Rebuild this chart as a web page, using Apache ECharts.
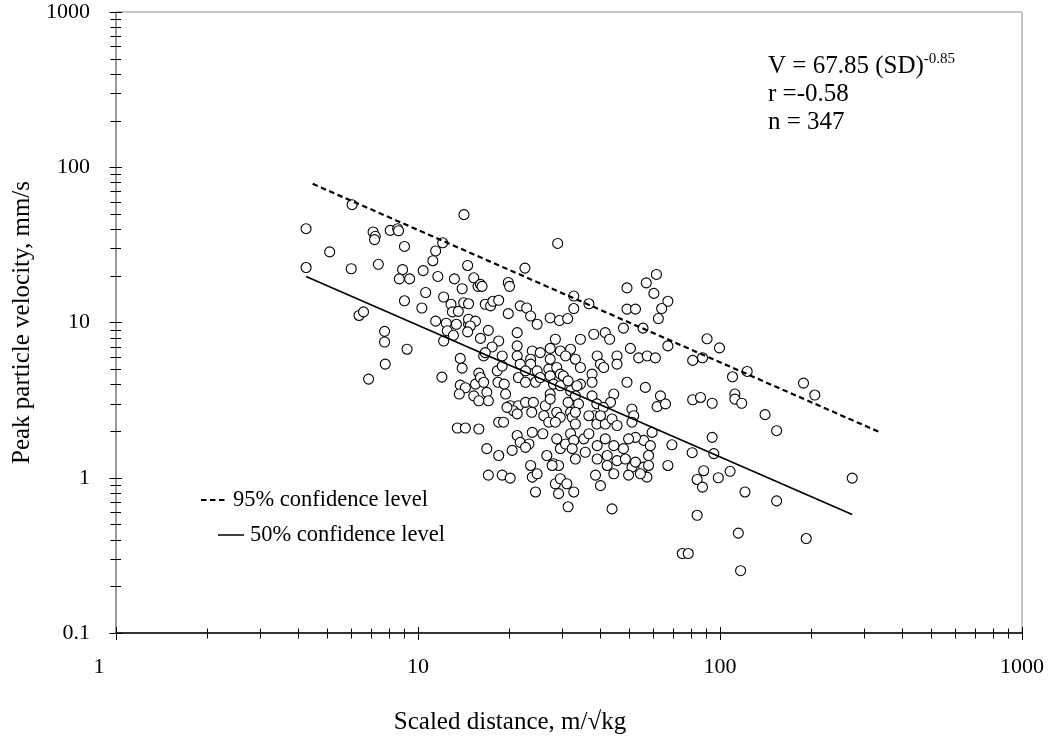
<!DOCTYPE html>
<html>
<head>
<meta charset="utf-8">
<script src="https://cdn.jsdelivr.net/npm/echarts@6/dist/echarts.min.js"></script>
<style>html,body{margin:0;padding:0;background:#fff}#chart{width:1054px;height:740px}</style>
</head>
<body>
<div id="chart"></div>
<script>
// Scaled distance (m/√kg) of each observation
const scaledDistance = [
  6.05, 4.26, 14.2, 7.10, 7.22, 7.18, 8.09, 8.56, 8.62, 5.10,
  9.02, 12.07, 11.44, 11.2, 14.6, 4.26, 6.01, 7.39, 8.89, 8.67,
  9.38, 10.4, 11.63, 13.2, 14.0, 15.3, 15.8, 10.6, 9.02, 12.16,
  12.86, 14.17, 14.7, 10.3, 13.0, 13.6, 6.38, 6.6, 11.44, 12.4,
  13.4, 14.7, 14.7, 15.5, 12.5, 13.1, 7.75, 7.75, 12.16, 9.2,
  7.79, 13.8, 14.0, 6.86, 12.0, 15.9, 13.8, 14.35, 15.5, 13.7,
  13.5, 14.35, 15.9, 29.0, 16.1, 16.3, 22.6, 19.9, 20.1, 16.7,
  17.4, 17.7, 18.5, 21.8, 22.9, 23.6, 24.8, 19.9, 14.9, 27.4,
  29.4, 31.3, 32.8, 32.8, 36.8, 49.2, 57.0, 61.6, 60.4, 49.2,
  52.5, 55.6, 47.9, 17.1, 14.6, 21.3, 38.2, 41.7, 43.1, 34.5,
  28.5, 16.1, 18.5, 17.6, 16.5, 16.7, 19.0, 21.3, 21.3, 21.8,
  23.9, 25.4, 27.4, 23.6, 23.6, 29.6, 32.0, 30.8, 33.2, 34.5,
  27.4, 27.1, 28.8, 29.6, 39.2, 40.2, 41.2, 45.6, 45.6, 50.5,
  53.8, 57.4, 61.1, 37.7, 37.7, 34.5, 44.5, 43.4, 49.2, 56.6,
  16.1, 16.5, 18.3, 19.0, 18.4, 19.3, 19.5, 16.9, 17.1, 21.5,
  22.7, 24.5, 22.7, 24.8, 25.4, 27.4, 28.1, 29.6, 30.3, 31.4,
  32.0, 33.6, 33.2, 34.0, 32.0, 27.4, 26.4, 28.8, 20.2, 21.5,
  22.7, 24.1, 23.8, 37.7, 39.1, 41.1, 38.3, 51.1, 51.8, 51.1,
  26.1, 27.1, 29.6, 32.4, 33.2, 36.8, 39.1, 41.7, 43.9, 45.6,
  15.3, 15.9, 18.5, 19.2, 20.7, 21.3, 63.5, 19.7, 27.4, 31.4,
  28.5, 33.2, 40.2, 59.6, 55.9, 52.5, 21.3, 21.8, 23.9, 25.9,
  23.3, 22.7, 16.9, 18.5, 20.5, 26.7, 28.1, 29.2, 27.8, 23.6,
  28.8, 29.6, 30.8, 32.0, 32.8, 32.4, 35.4, 36.8, 35.8, 39.2,
  39.2, 41.7, 42.3, 44.5, 33.2, 45.6, 47.9, 48.6, 51.1, 49.8,
  52.5, 55.9, 58.0, 58.0, 57.3, 38.7, 40.2, 44.5, 49.8, 54.5,
  17.1, 19.0, 20.2, 23.9, 24.8, 24.5, 28.5, 29.6, 31.1, 29.2,
  32.8, 31.4, 43.9, 42.3, 67.2, 64.1, 62.5, 67.2, 90.6, 99.6,
  81.2, 87.5, 123, 110, 189, 206, 61.9, 66.0, 81.2, 86.2,
  94.2, 112, 112, 118, 141, 154, 58.8, 69.3, 67.2, 80.9,
  94.2, 95.4, 88.3, 84.0, 87.5, 98.7, 108, 121, 154, 84.0,
  115, 193, 75.0, 78.5, 117, 274
];
// Peak particle velocity (mm/s) of each observation
const peakVelocity = [
  57.4, 40.2, 49.5, 38.3, 35.9, 34.2, 39.2, 40.2, 39.0, 28.5,
  30.9, 32.6, 28.9, 25.0, 23.3, 22.6, 22.2, 23.7, 21.9, 19.1,
  19.1, 21.6, 19.8, 19.1, 16.5, 19.4, 17.1, 15.6, 13.8, 14.6,
  13.1, 13.4, 13.2, 12.4, 11.7, 11.8, 11.1, 11.7, 10.2, 9.9,
  9.74, 9.74, 10.5, 10.2, 8.84, 8.27, 8.77, 7.49, 7.6, 6.73,
  5.39, 5.87, 5.08, 4.32, 4.45, 4.72, 3.95, 3.8, 4.01, 3.46,
  2.09, 2.09, 2.06, 32.3, 17.6, 17.1, 22.4, 18.1, 17.1, 13.1,
  12.8, 13.7, 13.9, 12.8, 12.4, 11.0, 9.74, 11.4, 9.5, 10.7,
  10.3, 10.6, 14.8, 12.3, 13.2, 16.7, 18.0, 20.4, 15.4, 12.2,
  12.2, 9.2, 9.2, 8.9, 8.7, 8.6, 8.4, 8.6, 7.8, 7.8,
  7.8, 7.9, 7.6, 6.96, 6.09, 6.4, 6.09, 7.07, 6.09, 5.39,
  6.56, 6.4, 6.81, 5.8, 5.39, 6.56, 6.73, 6.09, 5.8, 5.13,
  5.8, 5.01, 5.13, 4.65, 6.09, 5.39, 5.13, 6.09, 5.39, 6.81,
  5.92, 6.09, 5.92, 4.65, 4.12, 4.01, 3.46, 3.06, 4.12, 3.82,
  4.42, 4.12, 4.88, 5.24, 4.12, 4.01, 3.46, 3.55, 3.13, 4.42,
  4.12, 4.12, 4.88, 4.88, 4.42, 4.53, 4.01, 3.91, 4.53, 4.21,
  3.63, 3.91, 3.37, 2.99, 2.64, 3.46, 2.91, 2.64, 2.91, 2.91,
  3.06, 3.06, 2.64, 3.37, 2.99, 2.84, 2.51, 2.77, 2.51, 2.28,
  2.51, 2.28, 2.45, 2.45, 2.22, 2.51, 2.22, 2.22, 2.39, 2.17,
  3.37, 3.13, 2.28, 2.28, 2.70, 2.58, 3.37, 2.84, 3.21, 3.06,
  2.28, 2.64, 2.51, 1.96, 1.74, 1.82, 1.87, 1.69, 1.96, 1.92,
  1.65, 1.57, 1.54, 1.39, 1.50, 1.39, 1.23, 1.20, 1.20, 1.20,
  1.78, 1.54, 1.65, 1.92, 1.74, 1.54, 1.78, 1.92, 1.46, 1.61,
  1.32, 1.78, 1.39, 1.61, 1.32, 1.29, 1.54, 1.32, 1.17, 1.78,
  1.26, 1.17, 1.39, 1.20, 1.01, 1.04, 0.89, 1.06, 1.04, 1.06,
  1.04, 1.04, 0.995, 1.01, 1.06, 0.81, 0.915, 0.985, 0.915, 0.79,
  0.81, 0.65, 0.63, 1.20, 13.7, 12.3, 10.6, 7.07, 7.85, 6.86,
  5.70, 5.93, 4.84, 4.47, 4.07, 3.41, 2.87, 2.99, 3.18, 3.29,
  3.02, 3.46, 3.21, 3.02, 2.55, 2.01, 1.61, 1.63, 1.20, 1.45,
  1.82, 1.43, 1.11, 0.975, 0.87, 1.00, 1.10, 0.81, 0.71, 0.573,
  0.44, 0.406, 0.325, 0.325, 0.252, 0.995
];
// Fitted lines (end points)
const fit50SD = [4.26, 274];
const fit50V = [19.8, 0.58];
const fit95SD = [4.48, 341];
const fit95V = [78.2, 1.95];
// Axis ranges and tick layout
const xRange = [1, 1000];
const yRange = [0.1, 1000];
const xDecades = [1, 10, 100];
const yDecades = [0.1, 1, 10, 100];
const tickSteps = [1, 2, 3, 4, 5, 6, 7, 8, 9];
// Texts
const xTitle = 'Scaled distance, m/√kg';
const yTitle = 'Peak particle velocity, mm/s';
const legendTexts = ['95% confidence level', '50% confidence level'];
const equationMain = 'V = 67.85 (SD)';
const equationExp = '-0.85';
const statLines = ['r =-0.58', 'n = 347'];

const FONT = "'Liberation Serif', 'Times New Roman', serif";

const points = scaledDistance.map((d, i) => [d, peakVelocity[i]]);
const xTicks = [];
xDecades.forEach(d => tickSteps.forEach(s => xTicks.push([d * s, s === 1 ? 2 : 1])));
xTicks.push([xRange[1], 2]);
const yTicks = [];
yDecades.forEach(d => tickSteps.forEach(s => yTicks.push([s === 1 ? 2 : 1, +(d * s).toPrecision(6)])));
yTicks.push([2, yRange[1]]);

const plainNumber = v => String(+(+v).toPrecision(6));

const chart = echarts.init(document.getElementById('chart'), null, {renderer: 'canvas'});
chart.setOption({
  animation: false,
  backgroundColor: '#fff',
  grid: {left: 116, right: 32, top: 12, bottom: 105, show: true, borderColor: '#8c8c8c', borderWidth: 1, backgroundColor: 'transparent'},
  xAxis: {
    type: 'log', logBase: 10, min: xRange[0], max: xRange[1],
    axisLine: {show: true, lineStyle: {color: '#000', width: 1.5}},
    axisTick: {show: false},
    splitLine: {show: false},
    axisLabel: {
      margin: 23, color: '#000', fontFamily: FONT, fontSize: 22,
      formatter: v => +v === 1 ? '{f|1}' : '{n|' + plainNumber(v) + '}',
      rich: {
        f: {fontFamily: FONT, fontSize: 22, color: '#000', padding: [0, 34, 0, 0]},
        n: {fontFamily: FONT, fontSize: 22, color: '#000'}
      }
    },
    name: xTitle, nameLocation: 'middle', nameGap: 77,
    nameTextStyle: {fontFamily: FONT, fontSize: 25, color: '#000', padding: [0, 118, 0, 0]}
  },
  yAxis: {
    type: 'log', logBase: 10, min: yRange[0], max: yRange[1],
    axisLine: {show: true, lineStyle: {color: '#8c8c8c', width: 1.5}},
    axisTick: {show: false},
    splitLine: {show: false},
    axisLabel: {margin: 26, color: '#000', fontFamily: FONT, fontSize: 22, padding: [10, 0, 0, 0], formatter: plainNumber},
    name: yTitle, nameLocation: 'middle', nameGap: 78, nameRotate: 90,
    nameTextStyle: {fontFamily: FONT, fontSize: 25, color: '#000'}
  },
  graphic: [
    {type: 'text', left: 768, top: 52, z: 10,
     style: {
       text: '{m|' + equationMain + '}{s|' + equationExp + '}\n{m|' + statLines[0] + '}\n{m|' + statLines[1] + '}',
       rich: {
         m: {fontFamily: FONT, fontSize: 25, lineHeight: 28.3, fill: '#000'},
         s: {fontFamily: FONT, fontSize: 15, lineHeight: 8, verticalAlign: 'top', fill: '#000'}
       }
     }},
    {type: 'line', z: 10, shape: {x1: 201, y1: 500, x2: 228, y2: 500}, style: {stroke: '#000', lineWidth: 2, lineDash: [5.5, 3.5]}},
    {type: 'text', z: 10, x: 233, y: 500, style: {text: legendTexts[0], fontFamily: FONT, fontSize: 22.5, fill: '#000', verticalAlign: 'middle'}},
    {type: 'line', z: 10, shape: {x1: 218, y1: 535, x2: 244, y2: 535}, style: {stroke: '#000', lineWidth: 1.5}},
    {type: 'text', z: 10, x: 250, y: 535, style: {text: legendTexts[1], fontFamily: FONT, fontSize: 22.5, fill: '#000', verticalAlign: 'middle'}}
  ],
  series: [
    {
      type: 'scatter', data: points, symbol: 'circle', symbolSize: 10, z: 2,
      itemStyle: {color: '#fff', borderColor: '#000', borderWidth: 1.1, opacity: 1},
      emphasis: {disabled: true}
    },
    {
      type: 'line', data: fit95SD.map((d, i) => [d, fit95V[i]]), symbol: 'none', z: 4,
      lineStyle: {color: '#000', width: 2.2, type: [5.5, 3.5]}
    },
    {
      type: 'line', data: fit50SD.map((d, i) => [d, fit50V[i]]), symbol: 'none', z: 4,
      lineStyle: {color: '#000', width: 1.7}
    },
    {
      type: 'custom', data: xTicks, z: 6, silent: true, clip: false,
      renderItem: (params, api) => {
        const major = api.value(1) === 2;
        const p = api.coord([api.value(0), yRange[0]]);
        const x = Math.round(p[0]) + 0.5;
        return {type: 'line', shape: {x1: x, y1: p[1] - (major ? 6 : 4.5), x2: x, y2: p[1] + (major ? 7 : 5.5)},
                style: {stroke: '#000', lineWidth: 1}};
      }
    },
    {
      type: 'custom', data: yTicks, z: 6, silent: true, clip: false,
      renderItem: (params, api) => {
        const major = api.value(0) === 2;
        const p = api.coord([xRange[0], api.value(1)]);
        const y = Math.round(p[1]) + 0.5;
        return {type: 'line', shape: {x1: p[0] - (major ? 6.5 : 5.5), y1: y, x2: p[0] + (major ? 6 : 5), y2: y},
                style: {stroke: '#000', lineWidth: 1}};
      }
    }
  ]
});
</script>
</body>
</html>
